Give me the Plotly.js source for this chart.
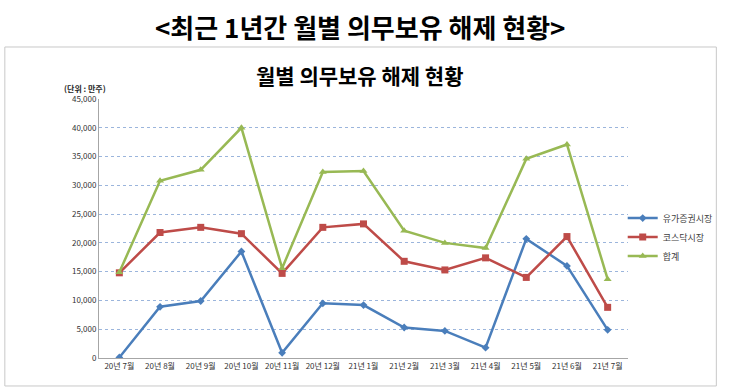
<!DOCTYPE html>
<html>
<head>
<meta charset="utf-8">
<script src="https://cdn.plot.ly/plotly-3.0.1.min.js"></script>
<style>
html,body{margin:0;padding:0;background:#fff;}
#chart{width:730px;height:389px;}
</style>
</head>
<body>
<div id="chart"></div>
<script>
const categories = ['20년 7월','20년 8월','20년 9월','20년 10월','20년 11월','20년 12월','21년 1월','21년 2월','21년 3월','21년 4월','21년 5월','21년 6월','21년 7월'];
const kospi  = [100, 8900, 9900, 18500, 900, 9500, 9200, 5300, 4700, 1800, 20700, 16000, 4900];
const kosdaq = [14800, 21800, 22700, 21600, 14700, 22700, 23300, 16800, 15300, 17400, 14000, 21100, 8800];
const total  = [14900, 30800, 32700, 40000, 15600, 32300, 32500, 22100, 20000, 19100, 34600, 37100, 13700];
const seriesNames = ['유가증권시장','코스닥시장','합계'];
const yTickVals = [0,5000,10000,15000,20000,25000,30000,35000,40000,45000];
const yTickText = ['0','5,000','10,000','15,000','20,000','25,000','30,000','35,000','40,000','45,000'];
const mainTitle = '&lt;최근 1년간 월별 의무보유 해제 현황&gt;';
const chartTitle = '월별 의무보유 해제 현황';
const unitLabel = '(단위 : 만주)';

const FONT = '"Noto Sans CJK KR", "Noto Sans", sans-serif';

const traces = [
  {x: categories, y: kospi, name: seriesNames[0], type: 'scatter', mode: 'lines+markers',
   line: {color: '#4a7ebb', width: 2.5}, marker: {symbol: 'diamond', size: 6, color: '#4a7ebb'}},
  {x: categories, y: kosdaq, name: seriesNames[1], type: 'scatter', mode: 'lines+markers',
   line: {color: '#be4b48', width: 2.5}, marker: {symbol: 'square', size: 7, color: '#be4b48'}},
  {x: categories, y: total, name: seriesNames[2], type: 'scatter', mode: 'lines+markers',
   line: {color: '#98b954', width: 2.5}, marker: {symbol: 'triangle-up', size: 7, color: '#98b954'}}
];

const layout = {
  width: 730, height: 389,
  margin: {l: 99, r: 93, t: 99, b: 31},
  paper_bgcolor: '#ffffff', plot_bgcolor: '#ffffff',
  font: {family: FONT, color: '#404040', size: 8},
  showlegend: true,
  legend: {x: 0.99, y: 0.467, xanchor: 'left', yanchor: 'middle', font: {size: 9, color: '#404040'},
           bgcolor: 'rgba(0,0,0,0)', tracegroupgap: 0, itemwidth: 30},
  xaxis: {type: 'category', range: [-0.5, 12.5], showgrid: false, showline: true, linecolor: '#a6a6a6', linewidth: 1,
          ticks: '', tickfont: {size: 8, color: '#333333'}, tickangle: 0, fixedrange: true},
  yaxis: {range: [0, 45000], tickvals: yTickVals, ticktext: yTickText, showgrid: true, gridcolor: '#9bb5dc',
          griddash: 'dot', gridwidth: 1, showline: true, linecolor: '#a6a6a6', linewidth: 1, zeroline: false,
          ticks: '', ticklen: 0, tickfont: {size: 8, color: '#333333'}, fixedrange: true},
  shapes: [
    {type: 'rect', xref: 'paper', yref: 'paper', x0: -0.178, x1: 1.167, y0: -0.108, y1: 1.2008,
     line: {color: '#c8c8c8', width: 1}, fillcolor: 'rgba(0,0,0,0)', layer: 'below'}
  ],
  annotations: [
    {text: '<b>' + mainTitle + '</b>', xref: 'paper', yref: 'paper', x: 0.494, y: (358-27)/259,
     xanchor: 'center', yanchor: 'middle', showarrow: false, font: {size: 26, color: '#000000', family: FONT}},
    {text: '<b>' + chartTitle + '</b>', xref: 'paper', yref: 'paper', x: 0.494, y: (358-75)/259,
     xanchor: 'center', yanchor: 'middle', showarrow: false, font: {size: 21, color: '#000000', family: FONT}},
    {text: '<b>' + unitLabel + '</b>', xref: 'paper', yref: 'paper', x: (61-99)/538, y: (358-88)/259,
     xanchor: 'left', yanchor: 'middle', showarrow: false, font: {size: 8, color: '#262626', family: FONT}}
  ]
};

Plotly.newPlot('chart', traces, layout, {displayModeBar: false, staticPlot: true});
</script>
</body>
</html>
